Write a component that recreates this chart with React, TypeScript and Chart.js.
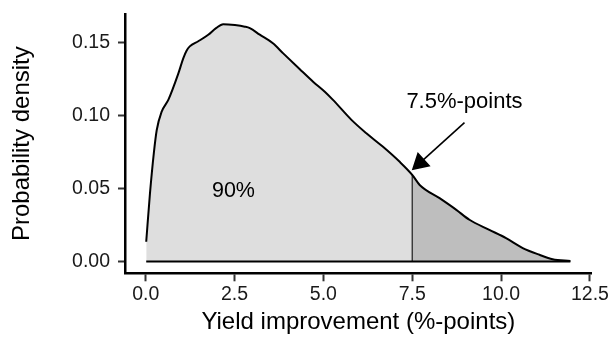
import React, { useEffect, useRef } from "react";
import { Chart, registerables } from "chart.js";

Chart.register(...registerables);

// Density curve (x: yield improvement, y: probability density)
const curveX = [
  0.015, 0.12, 0.23, 0.31, 0.45, 0.64, 0.92, 1.06, 1.15, 1.24, 1.48, 1.76, 1.98, 2.18,
  2.51, 2.79, 2.93, 3.21, 3.58, 3.87, 4.33, 4.71, 5.04, 5.27, 5.79, 6.21, 6.67,
  7.14, 7.5, 7.71, 8.27, 8.74, 9.11, 9.67, 10.14, 10.61, 11.08, 11.45, 11.95,
];
const curveY = [
  0.0135, 0.0465, 0.0745, 0.09, 0.1027, 0.111, 0.129, 0.1395, 0.1445, 0.1475, 0.151, 0.1555,
  0.16, 0.1627, 0.1621, 0.161, 0.16, 0.1555, 0.1496, 0.1427, 0.132, 0.1233, 0.1164,
  0.1108, 0.0971, 0.0879, 0.0788, 0.0685, 0.0594, 0.0525, 0.0434, 0.0354, 0.0286,
  0.0217, 0.016, 0.0092, 0.0046, 0.0016, 0.0003,
];
const cutoffX = 7.5;

const xTicks = [0, 2.5, 5, 7.5, 10, 12.5];
const yTicks = [0, 0.05, 0.1, 0.15];
const xRange = [-0.582, 12.55];
const yRange = [-0.0081, 0.1697];

const xTitle = "Yield improvement (%-points)";
const yTitle = "Probability density";
const shareText = "90%";
const shareTextPos = [2.47, 0.0485];
const cutoffText = "7.5%-points";
const cutoffTextPos = [8.97, 0.1091];
const arrowFrom = [8.97, 0.0952];
const arrowTo = [7.52, 0.0633];

const FONT = '"Liberation Sans", Arial, Helvetica, sans-serif';

const annotationPlugin = {
  id: "densityAnnotations",
  afterDatasetsDraw(chart: any) {
    const { ctx } = chart;
    const xs = chart.scales.x;
    const ys = chart.scales.y;
    ctx.save();
    ctx.fillStyle = "#000";
    ctx.textAlign = "center";
    ctx.textBaseline = "middle";
    ctx.font = `21.5px ${FONT}`;
    ctx.fillText(shareText, xs.getPixelForValue(shareTextPos[0]), ys.getPixelForValue(shareTextPos[1]));
    ctx.font = `22px ${FONT}`;
    ctx.fillText(cutoffText, xs.getPixelForValue(cutoffTextPos[0]), ys.getPixelForValue(cutoffTextPos[1]));

    // arrow
    const x0 = xs.getPixelForValue(arrowFrom[0]);
    const y0 = ys.getPixelForValue(arrowFrom[1]);
    const x1 = xs.getPixelForValue(arrowTo[0]);
    const y1 = ys.getPixelForValue(arrowTo[1]);
    const ang = Math.atan2(y1 - y0, x1 - x0);
    const headLen = 16.5;
    const half = Math.PI / 6;
    const bx = x1 - Math.cos(ang) * headLen * Math.cos(half);
    const by = y1 - Math.sin(ang) * headLen * Math.cos(half);
    ctx.strokeStyle = "#000";
    ctx.lineWidth = 1.6;
    ctx.beginPath();
    ctx.moveTo(x0, y0);
    ctx.lineTo(bx, by);
    ctx.stroke();
    ctx.beginPath();
    ctx.moveTo(x1, y1);
    ctx.lineTo(x1 - headLen * Math.cos(ang - half), y1 - headLen * Math.sin(ang - half));
    ctx.lineTo(x1 - headLen * Math.cos(ang + half), y1 - headLen * Math.sin(ang + half));
    ctx.closePath();
    ctx.fill();
    ctx.stroke();
    ctx.restore();
  },
};

export default function App() {
  const ref = useRef<HTMLCanvasElement>(null);
  useEffect(() => {
    document.body.style.margin = "0";
    const pts = curveX.map((x, i) => ({ x, y: curveY[i] }));
    const leftPts = pts.filter((p) => p.x <= cutoffX);
    const rightPts = pts.filter((p) => p.x >= cutoffX);
    const cutY = curveY[curveX.indexOf(cutoffX)];
    const first = curveX[0];
    const last = curveX[curveX.length - 1];
    const clear = "rgba(0,0,0,0)";

    const chart = new Chart(ref.current as HTMLCanvasElement, {
      type: "line",
      data: {
        datasets: [
          {
            data: pts,
            borderColor: "#000",
            borderWidth: 2,
            pointRadius: 0,
            fill: false,
            cubicInterpolationMode: "monotone",
            order: 0,
          },
          {
            data: [
              { x: first, y: 0 },
              { x: last, y: 0 },
            ],
            borderColor: "#000",
            borderWidth: 2,
            pointRadius: 0,
            fill: false,
            order: 1,
          },
          {
            data: [
              { x: cutoffX, y: 0 },
              { x: cutoffX, y: cutY },
            ],
            borderColor: "#1a1a1a",
            borderWidth: 1.2,
            pointRadius: 0,
            fill: false,
            order: 2,
          },
          {
            data: leftPts,
            borderColor: clear,
            borderWidth: 0,
            backgroundColor: "#DEDEDE",
            pointRadius: 0,
            fill: "origin",
            cubicInterpolationMode: "monotone",
            order: 5,
          },
          {
            data: rightPts,
            borderColor: clear,
            borderWidth: 0,
            backgroundColor: "#BEBEBE",
            pointRadius: 0,
            fill: "origin",
            cubicInterpolationMode: "monotone",
            order: 6,
          },
        ],
      } as any,
      options: {
        responsive: false,
        animation: false,
        layout: { padding: { top: 14, right: 19.3, left: 0, bottom: 0 } },
        plugins: {
          legend: { display: false },
          tooltip: { enabled: false },
        },
        scales: {
          x: {
            type: "linear",
            min: xRange[0],
            max: xRange[1],
            afterBuildTicks: (s: any) => {
              s.ticks = xTicks.map((v) => ({ value: v }));
            },
            afterFit: (s: any) => {
              s.height = 63.7;
              s.paddingLeft = 0;
              s.paddingRight = 0;
            },
            ticks: {
              callback: (v: any) => Number(v).toFixed(1),
              font: { family: FONT, size: 19.5 },
              color: "#1a1a1a",
              padding: 2,
              maxRotation: 0,
              autoSkip: false,
            },
            grid: {
              display: true,
              drawOnChartArea: false,
              drawTicks: true,
              tickLength: 8,
              tickColor: "#333",
              tickWidth: 2,
            },
            border: { display: true, color: "#000", width: 2.5 },
            title: {
              display: true,
              text: xTitle,
              font: { family: FONT, size: 24 },
              color: "#000",
              padding: { top: 0, bottom: 0 },
            },
          },
          y: {
            type: "linear",
            min: yRange[0],
            max: yRange[1],
            afterBuildTicks: (s: any) => {
              s.ticks = yTicks.map((v) => ({ value: v }));
            },
            afterFit: (s: any) => {
              s.width = 125;
              s.paddingTop = 0;
              s.paddingBottom = 0;
            },
            ticks: {
              callback: (v: any) => Number(v).toFixed(2),
              font: { family: FONT, size: 19.5 },
              color: "#1a1a1a",
              padding: 8,
              autoSkip: false,
            },
            grid: {
              display: true,
              drawOnChartArea: false,
              drawTicks: true,
              tickLength: 7,
              tickColor: "#333",
              tickWidth: 2,
            },
            border: { display: true, color: "#000", width: 2.5 },
            title: {
              display: true,
              text: yTitle,
              font: { family: FONT, size: 24 },
              color: "#000",
              padding: { top: 8, bottom: 0 },
            },
          },
        },
      } as any,
      plugins: [annotationPlugin],
    });
    return () => chart.destroy();
  }, []);

  return (
    <div style={{ position: "absolute", left: 0, top: 0, width: 611, height: 337 }}>
      <canvas
        ref={ref}
        width={611}
        height={337}
        style={{ display: "block", width: 611, height: 337 }}
      />
    </div>
  );
}
